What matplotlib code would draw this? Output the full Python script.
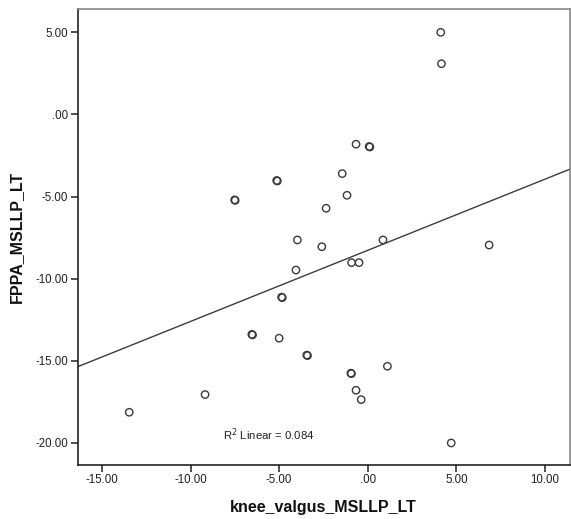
import matplotlib
matplotlib.use("Agg")
import matplotlib.pyplot as plt
import numpy as np

plt.rcParams['font.family'] = ['Liberation Sans', 'DejaVu Sans']

# Data (duplicated cases drawn twice -> darker rings)
knee_valgus = [4.12, 4.16, -0.66, 0.08, 0.12, -1.44, -5.14, -5.10, -1.17,
               -7.51, -7.48, -2.35, -3.97, 0.86, -2.59, 6.85, -0.91, -0.49,
               -4.05, -4.86, -4.82, -6.54, -6.50, -5.00, -3.44, -3.40, 1.11,
               -0.95, -0.92, -0.66, -0.37, -9.18, -13.46, 4.71]
fppa = [5.00, 3.09, -1.81, -1.95, -1.98, -3.60, -4.02, -4.05, -4.92,
        -5.20, -5.23, -5.71, -7.64, -7.64, -8.05, -7.95, -9.02, -9.02,
        -9.47, -11.12, -11.15, -13.39, -13.42, -13.62, -14.65, -14.68, -15.33,
        -15.75, -15.78, -16.79, -17.36, -17.05, -18.13, -20.00]

fit_intercept = -8.27
fit_slope = 0.433
r2_value = 0.084

x_ticks = [-15, -10, -5, 0, 5, 10]
y_ticks = [-20, -15, -10, -5, 0, 5]
x_lim = (-16.37, 11.39)
y_lim = (-21.31, 6.40)


def fmt(v):
    if v == 0:
        return ".00"
    return f"{v:.2f}"


fig = plt.figure(figsize=(5.71, 5.19), dpi=100)
ax = fig.add_axes([0.136, 0.105, 0.8615, 0.877])

ax.scatter(knee_valgus, fppa, s=28, facecolors='none', edgecolors='#3a3a3a',
           linewidths=1.0, zorder=3)

xs = np.array(x_lim)
ax.plot(xs, fit_intercept + fit_slope * xs, color='#3c3c3c', lw=1.0, zorder=2)

ax.set_xlim(*x_lim)
ax.set_ylim(*y_lim)
ax.set_xticks(x_ticks)
ax.set_yticks(y_ticks)
ax.set_xticklabels([fmt(v) for v in x_ticks])
ax.set_yticklabels([fmt(v) for v in y_ticks])
ax.tick_params(axis='both', direction='out', length=5, width=1.2,
               color='#333333', labelsize=8.3, labelcolor='#222222', pad=2)

for side in ['left', 'bottom']:
    ax.spines[side].set_color('#222222')
    ax.spines[side].set_linewidth(1.2)
for side in ['top', 'right']:
    ax.spines[side].set_color('#888888')
    ax.spines[side].set_linewidth(1.2)

ax.set_xlabel('knee_valgus_MSLLP_LT', fontsize=11.5, fontweight='bold',
              color='#111111', labelpad=10)
ax.set_ylabel('FPPA_MSLLP_LT', fontsize=11.5, fontweight='bold',
              color='#111111', labelpad=8)

ax.text(0.295, 0.065, f"R$^2$ Linear = {r2_value:.3f}", transform=ax.transAxes,
        ha='left', va='center', fontsize=8.2, color='#222222')

fig.savefig('out.png', dpi=100)
